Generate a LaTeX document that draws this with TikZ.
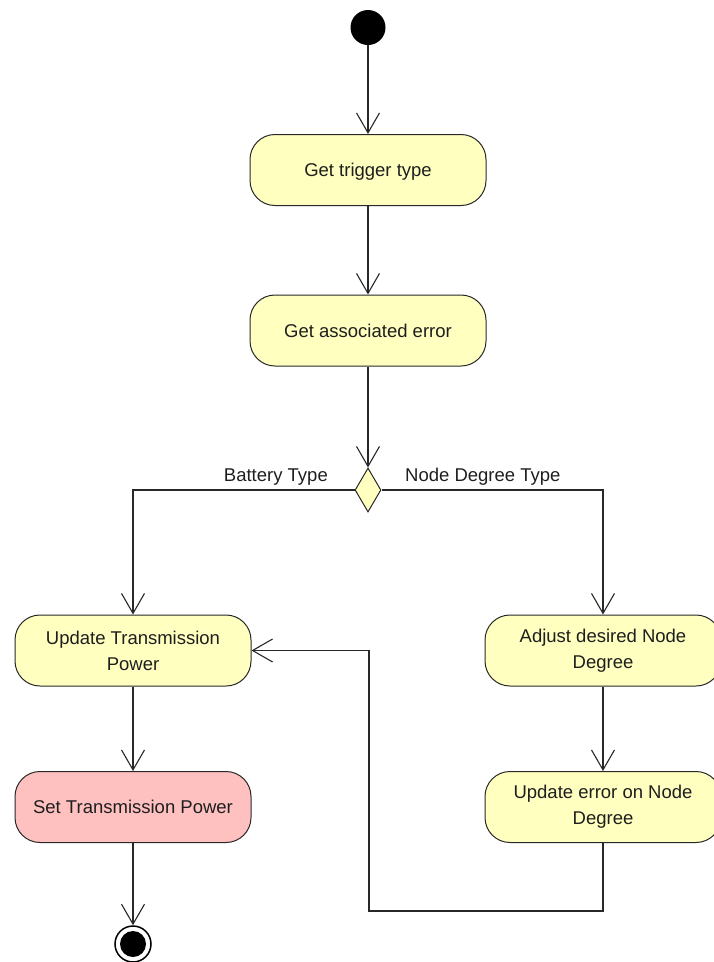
\documentclass[tikz,border=0pt]{standalone}
\usepackage{fontspec}
\setmainfont{Liberation Sans}
\usetikzlibrary{arrows.meta,shapes.geometric}
\definecolor{actfill}{RGB}{255,255,192}
\definecolor{finalfill}{RGB}{255,192,192}
\definecolor{linec}{RGB}{40,40,40}
\definecolor{txtc}{RGB}{30,30,30}
\begin{document}
\begin{tikzpicture}[x=1pt,y=-1pt,
  action/.style={draw=linec, fill=actfill, line width=1pt, rounded corners=25pt,
    minimum width=236pt, minimum height=71pt, inner sep=0pt, align=center,
    text=txtc, font=\fontsize{18.5}{26}\selectfont},
  oneline/.style={text height=13.5pt, text depth=0pt},
  decision/.style={draw=linec, fill=actfill, line width=1pt, diamond,
    minimum width=26pt, minimum height=44pt, inner sep=0pt},
  flow/.style={draw=linec, line width=1.1pt,
    -{Straight Barb[length=20pt,width=23pt,line width=1.1pt]}},
  guard/.style={inner sep=0pt, text=txtc, font=\fontsize{18.5}{22}\selectfont}]
\useasboundingbox (0,0) rectangle (713,962);

% initial and final nodes
\node[circle, fill=black, minimum size=35pt, inner sep=0pt] (start) at (368,27.5) {};
\node[circle, draw=black, fill=white, line width=1.5pt, minimum size=36pt, inner sep=0pt] (finish) at (133,944) {};
\node[circle, fill=black, minimum size=26pt, inner sep=0pt] (finishdot) at (finish.center) {};

% actions
\node[action, oneline] (trig) at (368,170) {Get trigger type};
\node[action, oneline] (err) at (368,330.5) {Get associated error};
\node[decision] (dec) at (368,490) {};
\node[action] (utp) at (133,650.5) {Update Transmission\\Power};
\node[action] (adj) at (603,650.5) {Adjust desired Node\\Degree};
\node[action, oneline, fill=finalfill] (stp) at (133,807) {Set Transmission Power};
\node[action] (uerr) at (603,807) {Update error on Node\\Degree};

% guards
\node[guard, anchor=base east] (gbat) at (328,481.5) {Battery Type};
\node[guard, anchor=base west] (gdeg) at (405,481.5) {Node Degree Type};

% control flows
\draw[flow] (start) -- (trig);
\draw[flow] (trig) -- (err);
\draw[flow] (err) -- (dec);
\draw[flow] (dec.west) -| (utp.north);
\draw[flow] (dec.east) -| (adj.north);
\draw[flow] (utp) -- (stp);
\draw[flow] (adj) -- (uerr);
\draw[flow] (stp) -- (finish);
\coordinate (loopcorner) at (369,911);
\draw[flow] (uerr.south) |- (loopcorner) |- (utp.east);
\end{tikzpicture}
\end{document}
